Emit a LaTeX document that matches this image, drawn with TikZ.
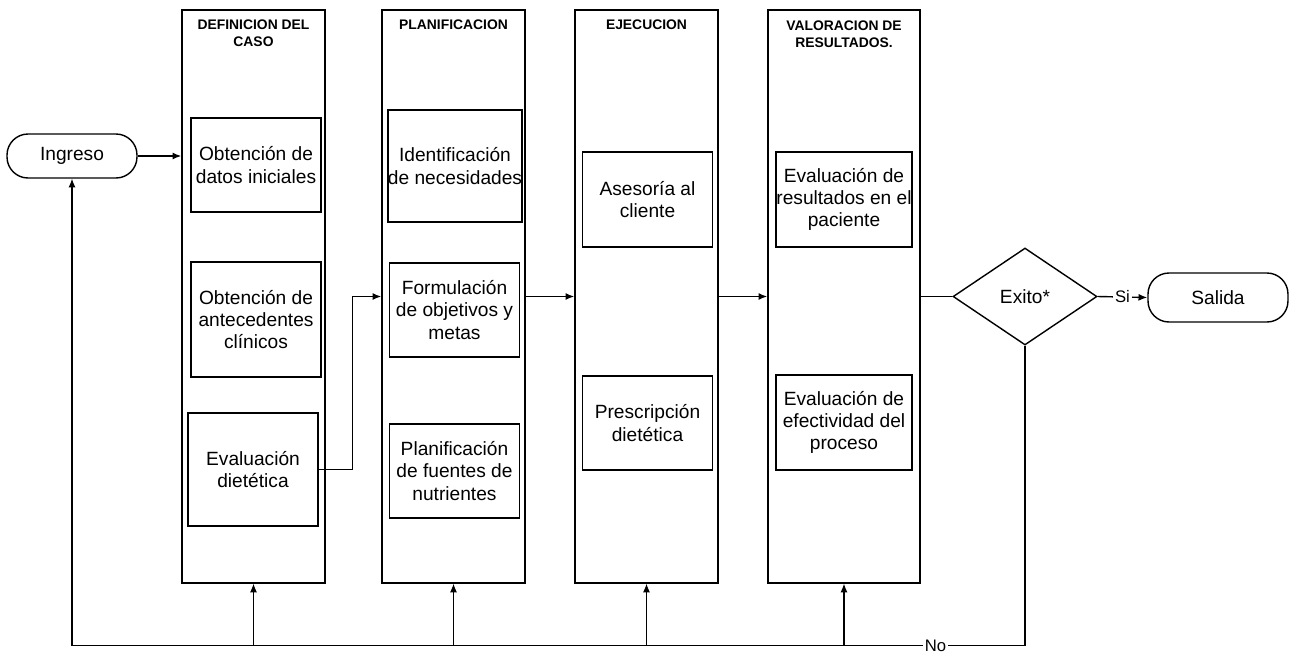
\documentclass[tikz,border=0pt]{standalone}
\usepackage{fontspec}
\setmainfont{Liberation Sans}
\usetikzlibrary{arrows.meta,shapes.geometric}
\begin{document}
\begin{tikzpicture}[x=0.02cm,y=-0.02cm,>={Latex[length=5pt,width=4pt]},line width=0.8pt,
  stage/.style={draw,rectangle,minimum width=2.86cm,minimum height=11.46cm,inner sep=0pt},
  stagehead/.style={anchor=north,align=center,inner sep=0pt,font=\fontsize{7.9}{9.6}\selectfont\bfseries},
  task/.style={draw,rectangle,minimum width=2.6cm,inner sep=0pt,align=center,font=\fontsize{10.9}{12.6}\selectfont},
  term/.style={draw,rounded corners=0.42cm,minimum width=2.6cm,minimum height=0.88cm,inner sep=0pt,font=\fontsize{10.9}{12.6}\selectfont},
  decision/.style={draw,diamond,aspect=1.5,minimum width=2.88cm,minimum height=1.94cm,inner sep=0pt,font=\fontsize{10.9}{12.6}\selectfont},
  feedback/.style={line width=0.6pt},
  lbl/.style={fill=white,inner sep=1pt,font=\fontsize{9.5}{10}\selectfont}]
\fill[white] (0,0) rectangle (1296,657);
\useasboundingbox (0,0) rectangle (1296,657);
% stages
\node[stage] (col1) at (253.5,296.5) {};
\node[stage] (col2) at (453.5,296.5) {};
\node[stage] (col3) at (646.5,296.5) {};
\node[stage,minimum width=3.04cm] (col4) at (844,296.5) {};
\node[stagehead] (hdr1) at (253.5,19) {DEFINICION DEL\\CASO};
\node[stagehead] (hdr2) at (453.5,19) {PLANIFICACION};
\node[stagehead] (hdr3) at (646.5,19) {EJECUCION};
\node[stagehead] (hdr4) at (844,20) {VALORACION DE\\RESULTADOS.};
% tasks
\node[task,minimum height=1.88cm] (b11) at (256,165) {Obtención de\\datos iniciales};
\node[task,minimum height=2.3cm] (b12) at (256,319.5) {Obtención de\\antecedentes\\clínicos};
\node[task,minimum height=2.26cm] (b13) at (253,469.5) {Evaluación\\dietética};
\node[task,minimum height=2.24cm] (b21) at (455,166) {Identificación\\de necesidades};
\node[task,minimum height=1.88cm] (b22) at (454.5,310) {Formulación\\de objetivos y\\metas};
\node[task,minimum height=1.88cm] (b23) at (454.5,471) {Planificación\\de fuentes de\\nutrientes};
\node[task,minimum height=1.9cm] (b31) at (647.5,199.5) {Asesoría al\\cliente};
\node[task,minimum height=1.88cm] (b32) at (647.5,423) {Prescripción\\dietética};
\node[task,minimum width=2.72cm,minimum height=1.9cm] (b41) at (844,199.5) {Evaluación de\\resultados en el\\paciente};
\node[task,minimum width=2.72cm,minimum height=1.9cm] (b42) at (844,422.5) {Evaluación de\\efectividad del\\proceso};
% terminals and decision
\node[term] (ingreso) at (72,156) {Ingreso};
\node[decision] (exito) at (1025,296.5) {Exito*};
\node[term,minimum width=2.8cm,minimum height=0.98cm] (salida) at (1218,297.5) {Salida};
% flow
\draw[->] (ingreso.east) -- (ingreso -| col1.west);
\draw[->] (b13.east) -- ++(34,0) |- (col2.west);
\draw[->] (col2.east) -- (col3.west);
\draw[->] (col3.east) -- (col4.west);
\draw (col4.east) -- (exito.west);
\draw[->] (exito.east) -- node[lbl]{Si} (salida.west);
% feedback
\path (exito.south) ++(0,300) coordinate (loopR);
\draw[->,feedback] (exito.south) -- (loopR) -- node[lbl,pos=0.094]{No} (loopR -| ingreso.south) -- (ingreso.south);
\foreach \s in {col1,col2,col3,col4}
  \draw[->,feedback] (\s.south |- loopR) -- (\s.south);
\end{tikzpicture}
\end{document}
